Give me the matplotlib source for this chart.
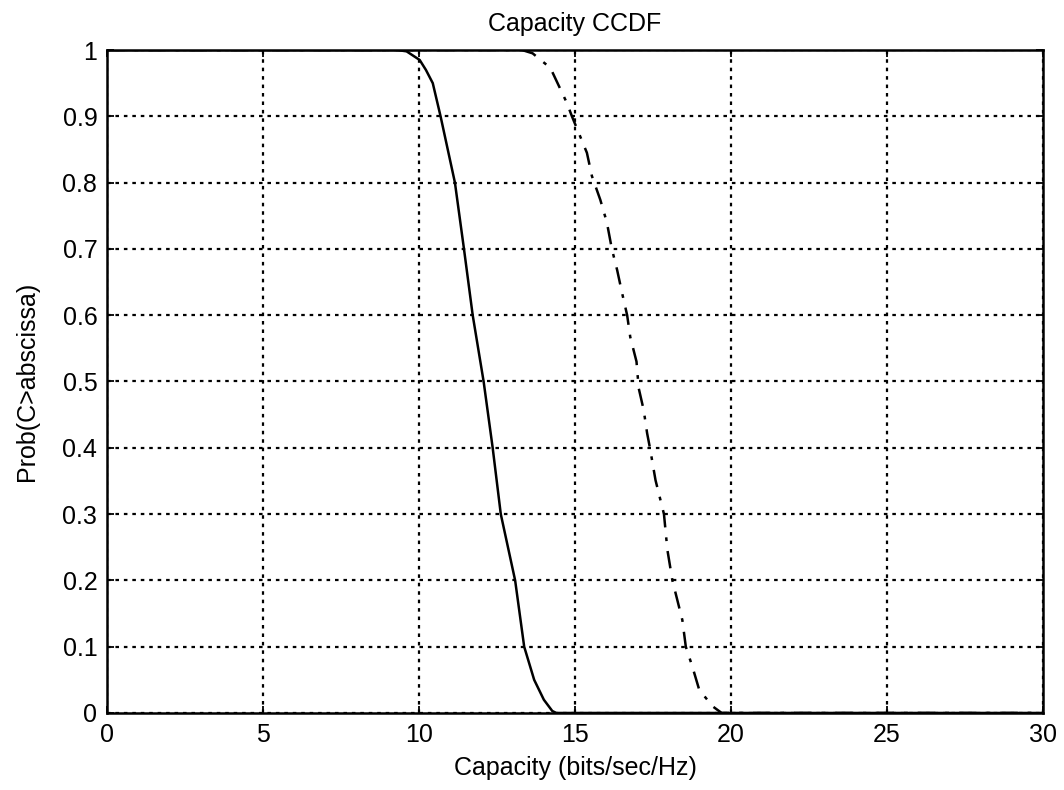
import matplotlib
matplotlib.use("Agg")
import matplotlib.pyplot as plt

# solid curve
cap_solid = [0, 9.3, 9.6, 10.02, 10.22, 10.44, 10.69, 11.15, 11.44, 11.72,
             12.07, 12.36, 12.62, 13.08, 13.37, 13.69, 14.0, 14.27, 14.4, 30]
prob_solid = [1.0, 1.0, 0.998, 0.985, 0.97, 0.95, 0.90, 0.80, 0.70, 0.60,
              0.50, 0.40, 0.30, 0.20, 0.10, 0.05, 0.02, 0.003, 0.0, 0.0]

# dash-dot curve
cap_dash = [0, 13.3, 13.64, 14.21, 14.47, 14.74, 14.9, 15.38, 15.54, 15.81,
            16.02, 16.18, 16.35, 16.51, 16.67, 16.77, 16.97, 17.04, 17.2,
            17.31, 17.4, 17.58, 17.85, 17.96, 18.12, 18.44, 18.55, 18.76,
            18.98, 19.41, 19.7, 30]
prob_dash = [1.0, 1.0, 0.995, 0.973, 0.947, 0.92, 0.90, 0.845, 0.81, 0.774,
             0.74, 0.70, 0.668, 0.633, 0.60, 0.567, 0.53, 0.49, 0.457,
             0.422, 0.40, 0.351, 0.30, 0.246, 0.20, 0.14, 0.10, 0.07,
             0.035, 0.01, 0.0, 0.0]

x_ticks = [0, 5, 10, 15, 20, 25, 30]
y_ticks = [0, 0.1, 0.2, 0.3, 0.4, 0.5, 0.6, 0.7, 0.8, 0.9, 1]
y_tick_labels = ["0", "0.1", "0.2", "0.3", "0.4", "0.5", "0.6", "0.7", "0.8", "0.9", "1"]

plt.rcParams["font.family"] = ["Liberation Sans", "DejaVu Sans"]

fig = plt.figure(figsize=(10.64, 7.90), dpi=100)
ax = fig.add_axes([0.1006, 0.0975, 0.8797, 0.8392])

ax.plot(cap_solid, prob_solid, color="black", lw=1.8, solid_capstyle="butt")
ax.plot(cap_dash, prob_dash, color="black", lw=1.8, linestyle=(0, (7, 4, 1.5, 4)))

ax.set_xlim(0, 30)
ax.set_ylim(0, 1)
ax.set_xticks(x_ticks)
ax.set_yticks(y_ticks)
ax.set_yticklabels(y_tick_labels)
ax.grid(True, color="black", linestyle=(0, (1.6, 2.2)), lw=1.6)
ax.tick_params(direction="in", length=5, width=1.3, top=True, right=True,
               labelsize=18, pad=7, colors="black")
for s in ax.spines.values():
    s.set_linewidth(1.8)

ax.set_title("Capacity CCDF", fontsize=18, pad=14)
ax.set_xlabel("Capacity (bits/sec/Hz)", fontsize=18, labelpad=7)
ax.set_ylabel("Prob(C>abscissa)", fontsize=18, labelpad=17)

fig.savefig("out.png", dpi=100)
